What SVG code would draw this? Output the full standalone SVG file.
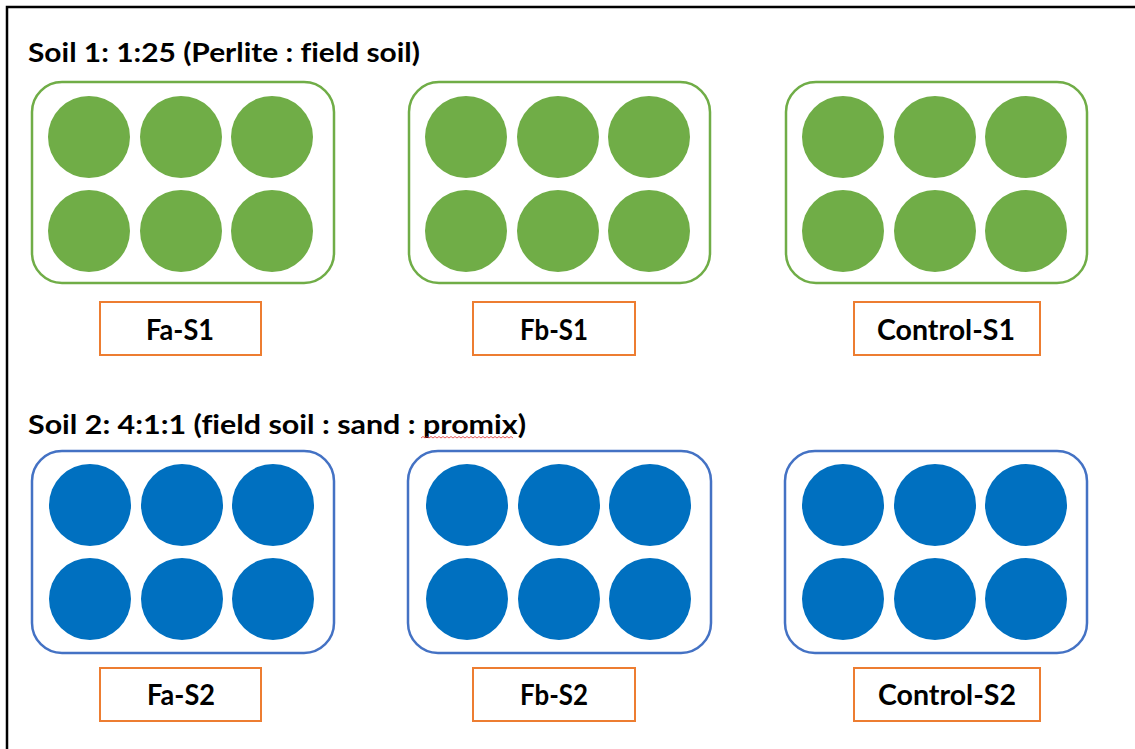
<svg xmlns="http://www.w3.org/2000/svg" width="1135" height="749" viewBox="0 0 1135 749">
<style>
.frame{fill:none;stroke:#000;stroke-width:2.5}
.title{font-family:Lato,"Liberation Sans",sans-serif;font-weight:700;font-size:26.5px;fill:#000;font-variant-ligatures:none}
.lbl{font-family:Lato,"Liberation Sans",sans-serif;font-weight:700;font-size:28.5px;fill:#000;text-anchor:middle}
.trayG{fill:#fff;stroke:#70AD47;stroke-width:2.5}
.trayB{fill:#fff;stroke:#4472C4;stroke-width:2.5}
.g{fill:#70AD47}
.b{fill:#0070C0}
.box{fill:#fff;stroke:#ED7D31;stroke-width:2}
</style>
<defs>
<g id="wellsG">
<circle class="g" cx="57" cy="55" r="41"/><circle class="g" cx="149" cy="55" r="41"/><circle class="g" cx="240" cy="55" r="41"/>
<circle class="g" cx="57" cy="149" r="41"/><circle class="g" cx="149" cy="149" r="41"/><circle class="g" cx="240" cy="149" r="41"/>
</g>
<g id="wellsB">
<circle class="b" cx="58" cy="54" r="41"/><circle class="b" cx="150" cy="54" r="41"/><circle class="b" cx="241" cy="54" r="41"/>
<circle class="b" cx="58" cy="148" r="41"/><circle class="b" cx="150" cy="148" r="41"/><circle class="b" cx="241" cy="148" r="41"/>
</g>
</defs>
<rect width="1135" height="749" fill="#fff"/>
<path class="frame" d="M7,749 V7 H1135"/>
<text class="title" x="28" y="62" textLength="392" lengthAdjust="spacingAndGlyphs">Soil 1: 1:25 (Perlite : field soil)</text>
<text class="title" x="28" y="434" textLength="498" lengthAdjust="spacingAndGlyphs">Soil 2: 4:1:1 (field soil : sand : promix)</text>
<path d="M421,438 l2,-1.5 l2,1.5 l2,-1.5 l2,1.5 l2,-1.5 l2,1.5 l2,-1.5 l2,1.5 l2,-1.5 l2,1.5 l2,-1.5 l2,1.5 l2,-1.5 l2,1.5 l2,-1.5 l2,1.5 l2,-1.5 l2,1.5 l2,-1.5 l2,1.5 l2,-1.5 l2,1.5 l2,-1.5 l2,1.5 l2,-1.5 l2,1.5 l2,-1.5 l2,1.5 l2,-1.5 l2,1.5 l2,-1.5 l2,1.5 l2,-1.5 l2,1.5 l2,-1.5 l2,1.5 l2,-1.5 l2,1.5 l2,-1.5 l2,1.5 l2,-1.5 l2,1.5 l2,-1.5 l2,1.5 l2,-1.5 l2,1.5" fill="none" stroke="#E03030" stroke-width="0.8"/>

<g id="tray-fa-s1"><rect class="trayG" x="32" y="82" width="302" height="201" rx="30"/><use href="#wellsG" x="32" y="82"/></g>
<g id="tray-fb-s1"><rect class="trayG" x="409" y="82" width="301" height="201" rx="30"/><use href="#wellsG" x="409" y="82"/></g>
<g id="tray-control-s1"><rect class="trayG" x="786" y="82" width="301" height="201" rx="30"/><use href="#wellsG" x="786" y="82"/></g>

<g id="label-fa-s1"><rect class="box" x="100" y="302" width="161" height="53"/><text class="lbl" x="180" y="340" textLength="68" lengthAdjust="spacingAndGlyphs">Fa-S1</text></g>
<g id="label-fb-s1"><rect class="box" x="473" y="302" width="162" height="53"/><text class="lbl" x="554" y="340" textLength="68" lengthAdjust="spacingAndGlyphs">Fb-S1</text></g>
<g id="label-control-s1"><rect class="box" x="854" y="302" width="186" height="53"/><text class="lbl" x="946" y="340" textLength="138" lengthAdjust="spacingAndGlyphs">Control-S1</text></g>

<g id="tray-fa-s2"><rect class="trayB" x="32" y="451" width="302" height="202" rx="30"/><use href="#wellsB" x="32" y="451"/></g>
<g id="tray-fb-s2"><rect class="trayB" x="408" y="451" width="303" height="202" rx="30"/><use href="#wellsB" x="409" y="451"/></g>
<g id="tray-control-s2"><rect class="trayB" x="785" y="451" width="302" height="202" rx="30"/><use href="#wellsB" x="785" y="451"/></g>

<g id="label-fa-s2"><rect class="box" x="100" y="668" width="161" height="53"/><text class="lbl" x="181" y="705" textLength="68" lengthAdjust="spacingAndGlyphs">Fa-S2</text></g>
<g id="label-fb-s2"><rect class="box" x="473" y="668" width="162" height="53"/><text class="lbl" x="554" y="705" textLength="68" lengthAdjust="spacingAndGlyphs">Fb-S2</text></g>
<g id="label-control-s2"><rect class="box" x="854" y="668" width="186" height="53"/><text class="lbl" x="947" y="705" textLength="138" lengthAdjust="spacingAndGlyphs">Control-S2</text></g>
<g id="connectors"></g>
</svg>
